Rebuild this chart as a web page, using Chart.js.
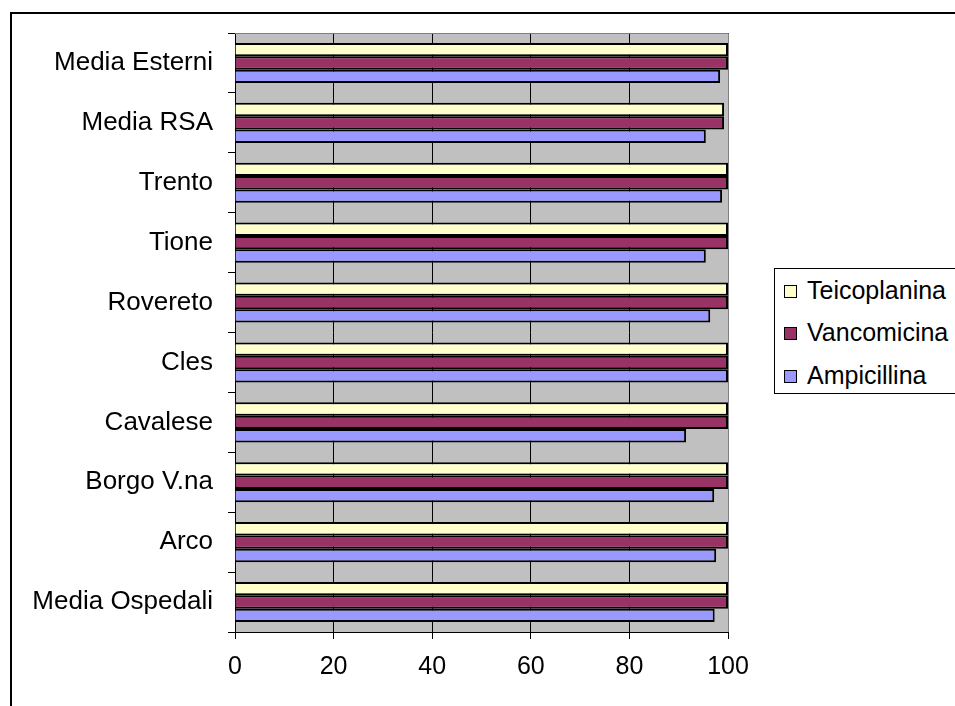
<!DOCTYPE html>
<html>
<head>
    <title>Enterococchi - sensibilita</title>
    <script src="https://cdn.jsdelivr.net/npm/chart.js"></script>
    <style type="text/css">
        body { margin: 0; overflow: hidden; background: #fff; font-family: "Liberation Sans", Arial, sans-serif; }
        #frame { position: absolute; left: 10px; top: 12px; width: 1000px; height: 800px; border: 2px solid #000; }
        #chart-container { position: absolute; left: 0; top: 0; width: 955px; height: 706px; }
        #legend { position: absolute; left: 774px; top: 268px; width: 220px; height: 124px; border: 1px solid #000; background: #fff; }
        #legend div { position: absolute; left: 9px; font-size: 25px; line-height: 25px; white-space: nowrap; }
        #legend span { display: inline-block; width: 11px; height: 11px; border: 1px solid #000; margin-right: 10px; vertical-align: 1px; }
    </style>
</head>
<body>
    <div id="frame"></div>
    <div id="chart-container">
        <canvas id="mycanvas" width="955" height="706"></canvas>
    </div>
    <div id="legend"></div>

    <script>
        var labels = ["Media Esterni", "Media RSA", "Trento", "Tione", "Rovereto", "Cles", "Cavalese", "Borgo V.na", "Arco", "Media Ospedali"];
        var teicoplanina = [100, 99.2, 100, 100, 100, 100, 100, 100, 100, 100];
        var vancomicina = [100, 99.2, 100, 100, 100, 100, 100, 100, 100, 100];
        var ampicillina = [98.4, 95.5, 98.8, 95.5, 96.4, 100, 91.5, 97.2, 97.6, 97.3];
        var xTicks = [0, 20, 40, 60, 80, 100];

        var fontFamily = '"Liberation Sans", Arial, sans-serif';

        // grey plot background with a grey frame on top and right
        var plotBackground = {
            id: "plotBackground",
            beforeDraw: function (chart) {
                var a = chart.chartArea, ctx = chart.ctx;
                ctx.save();
                ctx.fillStyle = "#C0C0C0";
                ctx.fillRect(a.left, a.top, a.right - a.left, a.bottom - a.top);
                ctx.restore();
            },
            afterDatasetsDraw: function (chart) {
                var a = chart.chartArea, ctx = chart.ctx;
                ctx.save();
                ctx.strokeStyle = "#808080";
                ctx.lineWidth = 1;
                ctx.beginPath();
                ctx.moveTo(a.left, a.top + 0.5);
                ctx.lineTo(a.right + 0.5, a.top + 0.5);
                ctx.lineTo(a.right + 0.5, a.bottom);
                ctx.stroke();
                ctx.restore();
            }
        };

        var chartdata = {
            labels: labels,
            datasets: [
                { label: "Teicoplanina", data: teicoplanina, backgroundColor: "#FFFFCC", borderColor: "#000", borderWidth: 2 },
                { label: "Vancomicina", data: vancomicina, backgroundColor: "#993366", borderColor: "#000", borderWidth: 2 },
                { label: "Ampicillina", data: ampicillina, backgroundColor: "#9999FF", borderColor: "#000", borderWidth: 2 }
            ]
        };

        var ctx = document.getElementById("mycanvas");

        var barGraph = new Chart(ctx, {
            type: "bar",
            data: chartdata,
            plugins: [plotBackground],
            options: {
                indexAxis: "y",
                responsive: false,
                animation: false,
                layout: { padding: { left: 0, top: 33, right: 227, bottom: 14 } },
                datasets: { bar: { categoryPercentage: 0.67, barPercentage: 1 } },
                plugins: { legend: { display: false }, tooltip: { enabled: false } },
                scales: {
                    x: {
                        min: 0,
                        max: 100,
                        afterFit: function (scale) { scale.height = 60; },
                        afterBuildTicks: function (scale) {
                            scale.ticks = xTicks.map(function (v) { return { value: v }; });
                        },
                        grid: { color: "#000", lineWidth: 1, tickLength: 7 },
                        border: { color: "#000", width: 1 },
                        ticks: { color: "#000", padding: 13, font: { family: fontFamily, size: 25 } }
                    },
                    y: {
                        afterFit: function (scale) { scale.width = 235; },
                        grid: { offset: true, drawOnChartArea: false, color: "#000", tickLength: 7 },
                        border: { color: "#000", width: 1 },
                        ticks: { color: "#000", padding: 15, font: { family: fontFamily, size: 26 } }
                    }
                }
            }
        });

        // legend box, built from the datasets
        var legend = document.getElementById("legend");
        var rows = [21, 63, 106];
        chartdata.datasets.forEach(function (ds, i) {
            var item = document.createElement("div");
            item.style.top = (rows[i] - 12) + "px";
            item.innerHTML = '<span style="background:' + ds.backgroundColor + '"></span>' + ds.label;
            legend.appendChild(item);
        });
    </script>
</body>
</html>
